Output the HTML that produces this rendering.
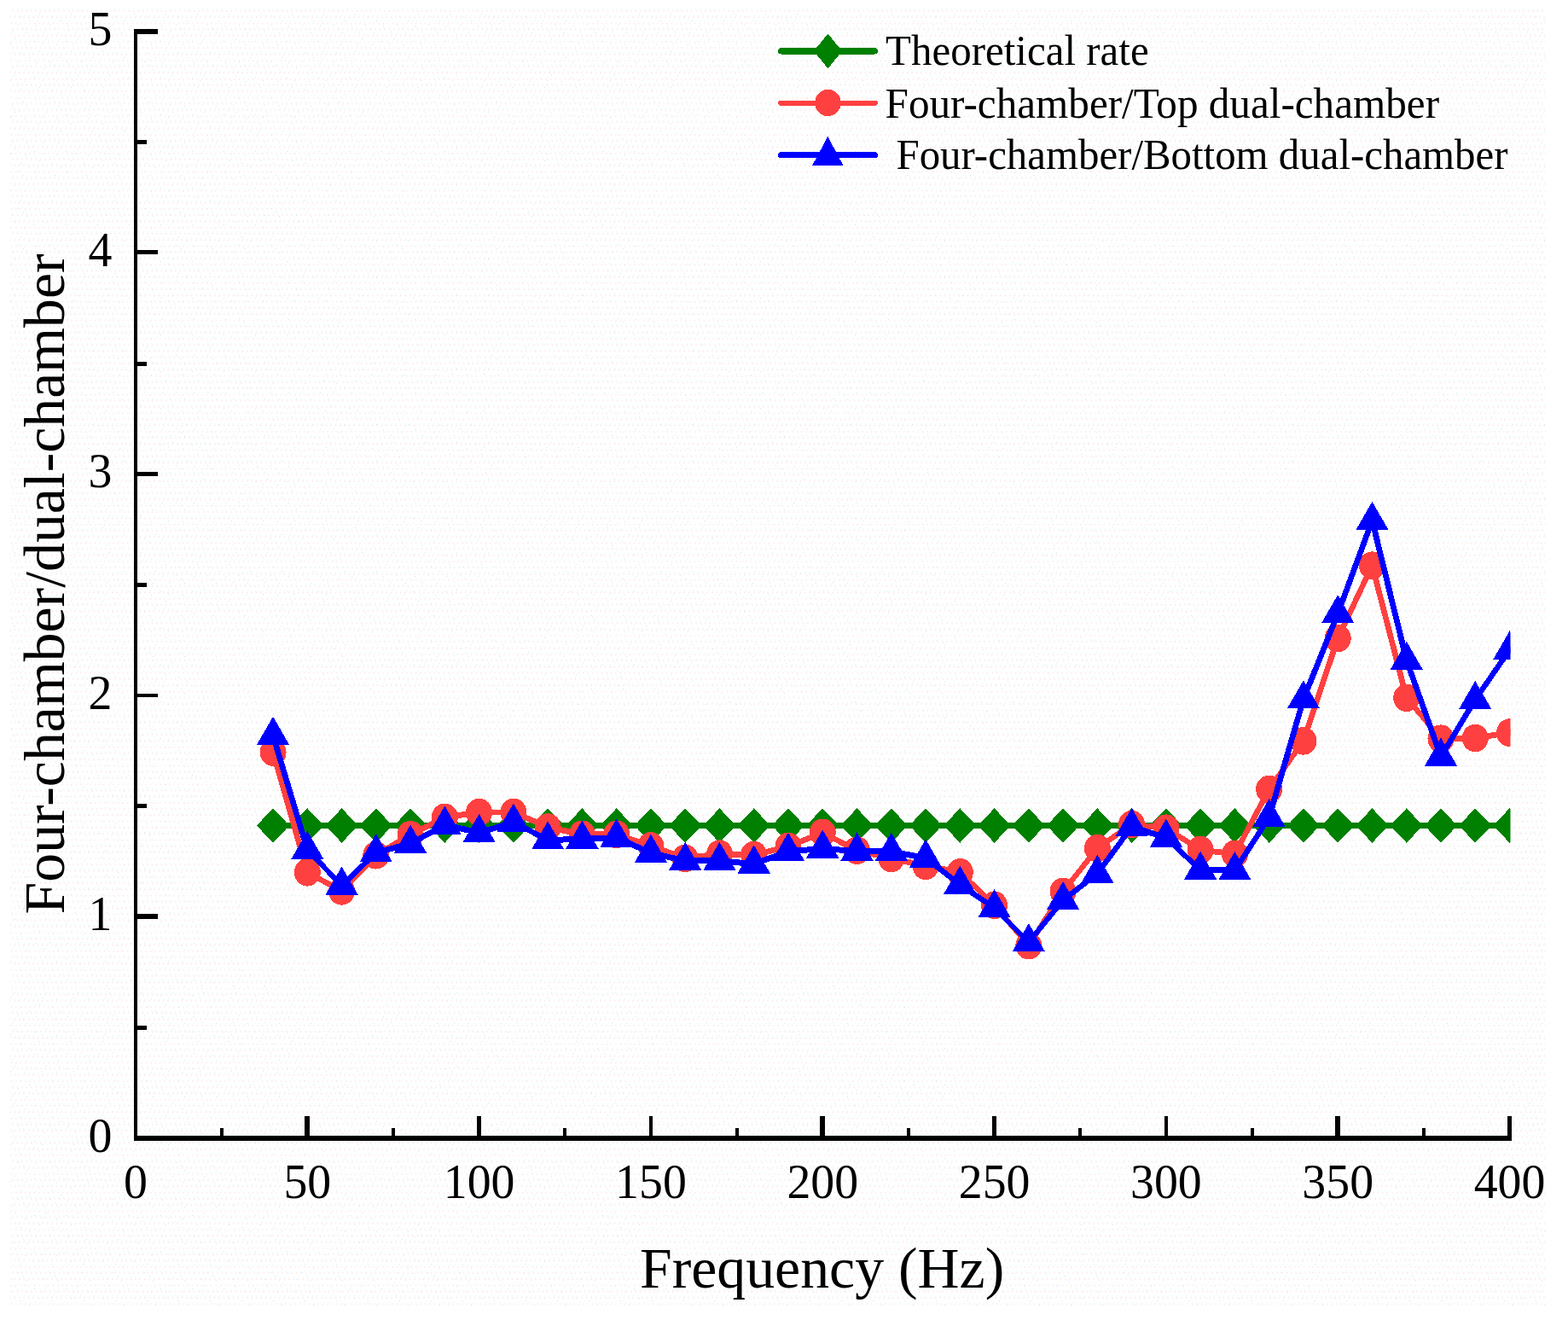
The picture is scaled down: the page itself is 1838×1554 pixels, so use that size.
<!DOCTYPE html>
<html lang="en">
<head>
<meta charset="utf-8">
<title>Four-chamber/dual-chamber vs Frequency (Hz)</title>
<style>
html,body{margin:0;padding:0;background:#fff;}
body{width:1838px;height:1554px;overflow:hidden;}
svg{display:block;}
text{font-family:"Liberation Serif","DejaVu Serif",serif;fill:#000;}
.tick{font-size:55.8px;}
.title{font-size:67.8px;}
.leg{font-size:49.1px;}
</style>
</head>
<body>
<svg width="1838" height="1554" viewBox="0 0 1838 1554">
<defs>
<pattern id="dots" x="0" y="0" width="5.45" height="21.75" patternUnits="userSpaceOnUse">
<g fill="#fbebeb">
<circle cx="4.2" cy="12.9" r="1.05"/>
<circle cx="0.95" cy="20.2" r="1.05"/><circle cx="6.4" cy="20.2" r="1.05"/>
<circle cx="2.47" cy="5.65" r="1.05"/>
</g>
<g fill="#f0fdfd">
<circle cx="3.6" cy="10.8" r="0.9"/>
<circle cx="1.6" cy="18" r="0.9"/>
<circle cx="4.9" cy="3.4" r="0.9"/>
</g>
</pattern>
<pattern id="dots2" x="0" y="0" width="37" height="43" patternUnits="userSpaceOnUse">
<g fill="#d3e9f6">
<rect x="3" y="5" width="1" height="1"/><rect x="17" y="2" width="1" height="1"/><rect x="29" y="9" width="1" height="1"/>
<rect x="9" y="16" width="1" height="1"/><rect x="24" y="19" width="1" height="1"/><rect x="34" y="24" width="1" height="1"/>
<rect x="5" y="30" width="1" height="1"/><rect x="14" y="37" width="1" height="1"/><rect x="21" y="29" width="1" height="1"/>
<rect x="31" y="38" width="1" height="1"/><rect x="12" y="8" width="1" height="1"/><rect x="27" y="33" width="1" height="1"/>
</g>
<g fill="#eef9e4"><rect x="20" y="12" width="1" height="1"/><rect x="7" y="24" width="1" height="1"/><rect x="33" y="3" width="1" height="1"/></g>
</pattern>
<clipPath id="plotclip"><rect x="150" y="20" width="1620.5" height="1320"/></clipPath>
</defs>
<rect x="0" y="0" width="1838" height="1554" fill="#ffffff"/>
<rect x="12" y="10" width="1800" height="1521" fill="url(#dots)"/>
<rect x="12" y="10" width="1800" height="1521" fill="url(#dots2)"/>

<g clip-path="url(#plotclip)" shape-rendering="crispEdges">
<line x1="320.05" y1="967.5" x2="1769.52" y2="967.5" stroke="#008000" stroke-width="7.4"/>
<g fill="#008000"><polygon points="300.85,967.5 320.05,947.25 339.25,967.5 320.05,987.75"/><polygon points="341.12,967.5 360.31,947.25 379.51,967.5 360.31,987.75"/><polygon points="381.38,967.5 400.58,947.25 419.78,967.5 400.58,987.75"/><polygon points="421.64,967.5 440.84,947.25 460.04,967.5 440.84,987.75"/><polygon points="461.9,967.5 481.1,947.25 500.3,967.5 481.1,987.75"/><polygon points="502.17,967.5 521.37,947.25 540.57,967.5 521.37,987.75"/><polygon points="542.43,967.5 561.63,947.25 580.83,967.5 561.63,987.75"/><polygon points="582.69,967.5 601.89,947.25 621.09,967.5 601.89,987.75"/><polygon points="622.96,967.5 642.16,947.25 661.36,967.5 642.16,987.75"/><polygon points="663.22,967.5 682.42,947.25 701.62,967.5 682.42,987.75"/><polygon points="703.48,967.5 722.68,947.25 741.88,967.5 722.68,987.75"/><polygon points="743.75,967.5 762.95,947.25 782.15,967.5 762.95,987.75"/><polygon points="784.01,967.5 803.21,947.25 822.41,967.5 803.21,987.75"/><polygon points="824.27,967.5 843.47,947.25 862.67,967.5 843.47,987.75"/><polygon points="864.53,967.5 883.73,947.25 902.93,967.5 883.73,987.75"/><polygon points="904.8,967.5 924,947.25 943.2,967.5 924,987.75"/><polygon points="945.06,967.5 964.26,947.25 983.46,967.5 964.26,987.75"/><polygon points="985.32,967.5 1004.52,947.25 1023.72,967.5 1004.52,987.75"/><polygon points="1025.59,967.5 1044.79,947.25 1063.99,967.5 1044.79,987.75"/><polygon points="1065.85,967.5 1085.05,947.25 1104.25,967.5 1085.05,987.75"/><polygon points="1106.11,967.5 1125.31,947.25 1144.51,967.5 1125.31,987.75"/><polygon points="1146.38,967.5 1165.58,947.25 1184.78,967.5 1165.58,987.75"/><polygon points="1186.64,967.5 1205.84,947.25 1225.04,967.5 1205.84,987.75"/><polygon points="1226.9,967.5 1246.1,947.25 1265.3,967.5 1246.1,987.75"/><polygon points="1267.16,967.5 1286.36,947.25 1305.56,967.5 1286.36,987.75"/><polygon points="1307.43,967.5 1326.63,947.25 1345.83,967.5 1326.63,987.75"/><polygon points="1347.69,967.5 1366.89,947.25 1386.09,967.5 1366.89,987.75"/><polygon points="1387.95,967.5 1407.15,947.25 1426.35,967.5 1407.15,987.75"/><polygon points="1428.22,967.5 1447.42,947.25 1466.62,967.5 1447.42,987.75"/><polygon points="1468.48,967.5 1487.68,947.25 1506.88,967.5 1487.68,987.75"/><polygon points="1508.74,967.5 1527.94,947.25 1547.14,967.5 1527.94,987.75"/><polygon points="1549,967.5 1568.2,947.25 1587.4,967.5 1568.2,987.75"/><polygon points="1589.27,967.5 1608.47,947.25 1627.67,967.5 1608.47,987.75"/><polygon points="1629.53,967.5 1648.73,947.25 1667.93,967.5 1648.73,987.75"/><polygon points="1669.79,967.5 1688.99,947.25 1708.19,967.5 1688.99,987.75"/><polygon points="1710.06,967.5 1729.26,947.25 1748.46,967.5 1729.26,987.75"/><polygon points="1750.32,967.5 1769.52,947.25 1788.72,967.5 1769.52,987.75"/></g>
<g stroke="#ff4040" stroke-linecap="round" fill="none"><line x1="320.05" y1="881.6" x2="360.31" y2="1022.3" stroke-width="6.71"/><line x1="360.31" y1="1022.3" x2="400.58" y2="1044.4" stroke-width="6.58"/><line x1="400.58" y1="1044.4" x2="440.84" y2="1002.3" stroke-width="6.23"/><line x1="440.84" y1="1002.3" x2="481.1" y2="978.1" stroke-width="6.53"/><line x1="481.1" y1="978.1" x2="521.37" y2="957.9" stroke-width="6.62"/><line x1="521.37" y1="957.9" x2="561.63" y2="952" stroke-width="6.87"/><line x1="561.63" y1="952" x2="601.89" y2="952" stroke-width="6.9"/><line x1="601.89" y1="952" x2="642.16" y2="969.5" stroke-width="6.68"/><line x1="642.16" y1="969.5" x2="682.42" y2="977.8" stroke-width="6.84"/><line x1="682.42" y1="977.8" x2="722.68" y2="977.9" stroke-width="6.9"/><line x1="722.68" y1="977.9" x2="762.95" y2="991.4" stroke-width="6.76"/><line x1="762.95" y1="991.4" x2="803.21" y2="1005.9" stroke-width="6.74"/><line x1="803.21" y1="1005.9" x2="843.47" y2="1000.7" stroke-width="6.88"/><line x1="843.47" y1="1000.7" x2="883.73" y2="1002" stroke-width="6.9"/><line x1="883.73" y1="1002" x2="924" y2="992" stroke-width="6.82"/><line x1="924" y1="992" x2="964.26" y2="975.8" stroke-width="6.7"/><line x1="964.26" y1="975.8" x2="1004.52" y2="996.7" stroke-width="6.6"/><line x1="1004.52" y1="996.7" x2="1044.79" y2="1005.9" stroke-width="6.83"/><line x1="1044.79" y1="1005.9" x2="1085.05" y2="1014.8" stroke-width="6.83"/><line x1="1085.05" y1="1014.8" x2="1125.31" y2="1022.3" stroke-width="6.85"/><line x1="1125.31" y1="1022.3" x2="1165.58" y2="1060.8" stroke-width="6.23"/><line x1="1165.58" y1="1060.8" x2="1205.84" y2="1108.2" stroke-width="6.3"/><line x1="1205.84" y1="1108.2" x2="1246.1" y2="1044.8" stroke-width="6.46"/><line x1="1246.1" y1="1044.8" x2="1286.36" y2="994.1" stroke-width="6.34"/><line x1="1286.36" y1="994.1" x2="1326.63" y2="966" stroke-width="6.44"/><line x1="1326.63" y1="966" x2="1366.89" y2="970.7" stroke-width="6.88"/><line x1="1366.89" y1="970.7" x2="1407.15" y2="996" stroke-width="6.5"/><line x1="1407.15" y1="996" x2="1447.42" y2="1000.9" stroke-width="6.88"/><line x1="1447.42" y1="1000.9" x2="1487.68" y2="924.9" stroke-width="6.54"/><line x1="1487.68" y1="924.9" x2="1527.94" y2="868.3" stroke-width="6.4"/><line x1="1527.94" y1="868.3" x2="1568.2" y2="748" stroke-width="6.68"/><line x1="1568.2" y1="748" x2="1608.47" y2="662.7" stroke-width="6.58"/><line x1="1608.47" y1="662.7" x2="1648.73" y2="817.8" stroke-width="6.72"/><line x1="1648.73" y1="817.8" x2="1688.99" y2="865.7" stroke-width="6.3"/><line x1="1688.99" y1="865.7" x2="1729.26" y2="865" stroke-width="6.9"/><line x1="1729.26" y1="865" x2="1769.52" y2="858.6" stroke-width="6.87"/></g>
<g fill="#ff4040"><ellipse cx="320.05" cy="881.6" rx="15.5" ry="16.3"/><ellipse cx="360.31" cy="1022.3" rx="15.5" ry="16.3"/><ellipse cx="400.58" cy="1044.4" rx="15.5" ry="16.3"/><ellipse cx="440.84" cy="1002.3" rx="15.5" ry="16.3"/><ellipse cx="481.1" cy="978.1" rx="15.5" ry="16.3"/><ellipse cx="521.37" cy="957.9" rx="15.5" ry="16.3"/><ellipse cx="561.63" cy="952" rx="15.5" ry="16.3"/><ellipse cx="601.89" cy="952" rx="15.5" ry="16.3"/><ellipse cx="642.16" cy="969.5" rx="15.5" ry="16.3"/><ellipse cx="682.42" cy="977.8" rx="15.5" ry="16.3"/><ellipse cx="722.68" cy="977.9" rx="15.5" ry="16.3"/><ellipse cx="762.95" cy="991.4" rx="15.5" ry="16.3"/><ellipse cx="803.21" cy="1005.9" rx="15.5" ry="16.3"/><ellipse cx="843.47" cy="1000.7" rx="15.5" ry="16.3"/><ellipse cx="883.73" cy="1002" rx="15.5" ry="16.3"/><ellipse cx="924" cy="992" rx="15.5" ry="16.3"/><ellipse cx="964.26" cy="975.8" rx="15.5" ry="16.3"/><ellipse cx="1004.52" cy="996.7" rx="15.5" ry="16.3"/><ellipse cx="1044.79" cy="1005.9" rx="15.5" ry="16.3"/><ellipse cx="1085.05" cy="1014.8" rx="15.5" ry="16.3"/><ellipse cx="1125.31" cy="1022.3" rx="15.5" ry="16.3"/><ellipse cx="1165.58" cy="1060.8" rx="15.5" ry="16.3"/><ellipse cx="1205.84" cy="1108.2" rx="15.5" ry="16.3"/><ellipse cx="1246.1" cy="1044.8" rx="15.5" ry="16.3"/><ellipse cx="1286.36" cy="994.1" rx="15.5" ry="16.3"/><ellipse cx="1326.63" cy="966" rx="15.5" ry="16.3"/><ellipse cx="1366.89" cy="970.7" rx="15.5" ry="16.3"/><ellipse cx="1407.15" cy="996" rx="15.5" ry="16.3"/><ellipse cx="1447.42" cy="1000.9" rx="15.5" ry="16.3"/><ellipse cx="1487.68" cy="924.9" rx="15.5" ry="16.3"/><ellipse cx="1527.94" cy="868.3" rx="15.5" ry="16.3"/><ellipse cx="1568.2" cy="748" rx="15.5" ry="16.3"/><ellipse cx="1608.47" cy="662.7" rx="15.5" ry="16.3"/><ellipse cx="1648.73" cy="817.8" rx="15.5" ry="16.3"/><ellipse cx="1688.99" cy="865.7" rx="15.5" ry="16.3"/><ellipse cx="1729.26" cy="865" rx="15.5" ry="16.3"/><ellipse cx="1769.52" cy="858.6" rx="15.5" ry="16.3"/></g>
<g stroke="#0000ff" stroke-linecap="round" fill="none"><line x1="320.05" y1="861.9" x2="360.31" y2="996" stroke-width="6.78"/><line x1="360.31" y1="996" x2="400.58" y2="1037.7" stroke-width="6.22"/><line x1="400.58" y1="1037.7" x2="440.84" y2="999.3" stroke-width="6.24"/><line x1="440.84" y1="999.3" x2="481.1" y2="988.7" stroke-width="6.9"/><line x1="481.1" y1="988.7" x2="521.37" y2="966.6" stroke-width="6.63"/><line x1="521.37" y1="966.6" x2="561.63" y2="976" stroke-width="6.92"/><line x1="561.63" y1="976" x2="601.89" y2="963.6" stroke-width="6.86"/><line x1="601.89" y1="963.6" x2="642.16" y2="984.4" stroke-width="6.66"/><line x1="642.16" y1="984.4" x2="682.42" y2="983.5" stroke-width="7"/><line x1="682.42" y1="983.5" x2="722.68" y2="981.5" stroke-width="7"/><line x1="722.68" y1="981.5" x2="762.95" y2="999.7" stroke-width="6.73"/><line x1="762.95" y1="999.7" x2="803.21" y2="1008.9" stroke-width="6.92"/><line x1="803.21" y1="1008.9" x2="843.47" y2="1008.9" stroke-width="7"/><line x1="843.47" y1="1008.9" x2="883.73" y2="1012.5" stroke-width="6.99"/><line x1="883.73" y1="1012.5" x2="924" y2="997.8" stroke-width="6.81"/><line x1="924" y1="997.8" x2="964.26" y2="994.5" stroke-width="6.99"/><line x1="964.26" y1="994.5" x2="1004.52" y2="997.6" stroke-width="6.99"/><line x1="1004.52" y1="997.6" x2="1044.79" y2="997.8" stroke-width="7"/><line x1="1044.79" y1="997.8" x2="1085.05" y2="1005.6" stroke-width="6.94"/><line x1="1085.05" y1="1005.6" x2="1125.31" y2="1036.7" stroke-width="6.4"/><line x1="1125.31" y1="1036.7" x2="1165.58" y2="1064.1" stroke-width="6.49"/><line x1="1165.58" y1="1064.1" x2="1205.84" y2="1104.2" stroke-width="6.2"/><line x1="1205.84" y1="1104.2" x2="1246.1" y2="1055" stroke-width="6.34"/><line x1="1246.1" y1="1055" x2="1286.36" y2="1023.8" stroke-width="6.4"/><line x1="1286.36" y1="1023.8" x2="1326.63" y2="969" stroke-width="6.41"/><line x1="1326.63" y1="969" x2="1366.89" y2="981.8" stroke-width="6.85"/><line x1="1366.89" y1="981.8" x2="1407.15" y2="1019.7" stroke-width="6.25"/><line x1="1407.15" y1="1019.7" x2="1447.42" y2="1020.1" stroke-width="7"/><line x1="1447.42" y1="1020.1" x2="1487.68" y2="958" stroke-width="6.49"/><line x1="1487.68" y1="958" x2="1527.94" y2="819.3" stroke-width="6.79"/><line x1="1527.94" y1="819.3" x2="1568.2" y2="719.1" stroke-width="6.71"/><line x1="1568.2" y1="719.1" x2="1608.47" y2="610" stroke-width="6.73"/><line x1="1608.47" y1="610" x2="1648.73" y2="773.8" stroke-width="6.82"/><line x1="1648.73" y1="773.8" x2="1688.99" y2="886.7" stroke-width="6.74"/><line x1="1688.99" y1="886.7" x2="1729.26" y2="820" stroke-width="6.53"/><line x1="1729.26" y1="820" x2="1769.52" y2="761.6" stroke-width="6.45"/></g>
<g fill="#0000ff"><polygon points="300.9,872.97 320.05,839.77 339.2,872.97"/><polygon points="341.17,1007.07 360.31,973.87 379.46,1007.07"/><polygon points="381.43,1048.77 400.58,1015.57 419.73,1048.77"/><polygon points="421.69,1010.37 440.84,977.17 459.99,1010.37"/><polygon points="461.95,999.77 481.1,966.57 500.25,999.77"/><polygon points="502.22,977.67 521.37,944.47 540.52,977.67"/><polygon points="542.48,987.07 561.63,953.87 580.78,987.07"/><polygon points="582.74,974.67 601.89,941.47 621.04,974.67"/><polygon points="623.01,995.47 642.16,962.27 661.31,995.47"/><polygon points="663.27,994.57 682.42,961.37 701.57,994.57"/><polygon points="703.53,992.57 722.68,959.37 741.83,992.57"/><polygon points="743.8,1010.77 762.95,977.57 782.1,1010.77"/><polygon points="784.06,1019.97 803.21,986.77 822.36,1019.97"/><polygon points="824.32,1019.97 843.47,986.77 862.62,1019.97"/><polygon points="864.58,1023.57 883.73,990.37 902.88,1023.57"/><polygon points="904.85,1008.87 924,975.67 943.15,1008.87"/><polygon points="945.11,1005.57 964.26,972.37 983.41,1005.57"/><polygon points="985.37,1008.67 1004.52,975.47 1023.67,1008.67"/><polygon points="1025.64,1008.87 1044.79,975.67 1063.94,1008.87"/><polygon points="1065.9,1016.67 1085.05,983.47 1104.2,1016.67"/><polygon points="1106.16,1047.77 1125.31,1014.57 1144.46,1047.77"/><polygon points="1146.42,1075.17 1165.58,1041.97 1184.73,1075.17"/><polygon points="1186.69,1115.27 1205.84,1082.07 1224.99,1115.27"/><polygon points="1226.95,1066.07 1246.1,1032.87 1265.25,1066.07"/><polygon points="1267.21,1034.87 1286.36,1001.67 1305.51,1034.87"/><polygon points="1307.48,980.07 1326.63,946.87 1345.78,980.07"/><polygon points="1347.74,992.87 1366.89,959.67 1386.04,992.87"/><polygon points="1388,1030.77 1407.15,997.57 1426.3,1030.77"/><polygon points="1428.27,1031.17 1447.42,997.97 1466.57,1031.17"/><polygon points="1468.53,969.07 1487.68,935.87 1506.83,969.07"/><polygon points="1508.79,830.37 1527.94,797.17 1547.09,830.37"/><polygon points="1549.05,730.17 1568.2,696.97 1587.36,730.17"/><polygon points="1589.32,621.07 1608.47,587.87 1627.62,621.07"/><polygon points="1629.58,784.87 1648.73,751.67 1667.88,784.87"/><polygon points="1669.84,897.77 1688.99,864.57 1708.14,897.77"/><polygon points="1710.11,831.07 1729.26,797.87 1748.41,831.07"/><polygon points="1750.37,772.67 1769.52,739.47 1788.67,772.67"/></g>
</g>
<g fill="#000" shape-rendering="crispEdges">
<rect x="157" y="34" width="4" height="1303"/>
<rect x="157" y="1331" width="1615" height="6"/>
<rect x="159" y="1202" width="13" height="5"/>
<rect x="159" y="1071" width="25.5" height="6"/>
<rect x="159" y="942" width="13" height="5"/>
<rect x="159" y="813" width="25.5" height="4"/>
<rect x="159" y="683" width="13" height="5"/>
<rect x="159" y="553" width="25.5" height="5"/>
<rect x="159" y="424" width="13" height="5"/>
<rect x="159" y="293" width="25.5" height="5"/>
<rect x="159" y="164" width="13" height="5"/>
<rect x="159" y="34" width="25.5" height="6"/>
<rect x="258" y="1322" width="4" height="11"/>
<rect x="357" y="1308" width="6" height="25"/>
<rect x="459" y="1322" width="4" height="11"/>
<rect x="559" y="1308" width="5" height="25"/>
<rect x="660" y="1322" width="4" height="11"/>
<rect x="761" y="1308" width="4" height="25"/>
<rect x="862" y="1322" width="4" height="11"/>
<rect x="961" y="1308" width="6" height="25"/>
<rect x="1063" y="1322" width="4" height="11"/>
<rect x="1163" y="1308" width="5" height="25"/>
<rect x="1264" y="1322" width="4" height="11"/>
<rect x="1365" y="1308" width="4" height="25"/>
<rect x="1466" y="1322" width="4" height="11"/>
<rect x="1565" y="1308" width="6" height="25"/>
<rect x="1667" y="1322" width="4" height="11"/>
<rect x="1767" y="1308" width="5" height="25"/>
</g>
<g class="tick" text-anchor="middle">
<text transform="translate(117.5,1349.6) scale(1,1.04)">0</text>
<text transform="translate(117.5,1090.2) scale(1,1.04)">1</text>
<text transform="translate(117.5,830.8) scale(1,1.04)">2</text>
<text transform="translate(117.5,571.4) scale(1,1.04)">3</text>
<text transform="translate(117.5,312) scale(1,1.04)">4</text>
<text transform="translate(117.5,52.6) scale(1,1.04)">5</text>
<text transform="translate(159,1403.6) scale(1,1.04)">0</text>
<text transform="translate(360.31,1403.6) scale(1,1.04)">50</text>
<text transform="translate(561.63,1403.6) scale(1,1.04)">100</text>
<text transform="translate(762.95,1403.6) scale(1,1.04)">150</text>
<text transform="translate(964.26,1403.6) scale(1,1.04)">200</text>
<text transform="translate(1165.58,1403.6) scale(1,1.04)">250</text>
<text transform="translate(1366.89,1403.6) scale(1,1.04)">300</text>
<text transform="translate(1568.2,1403.6) scale(1,1.04)">350</text>
<text transform="translate(1769.52,1403.6) scale(1,1.04)">400</text>
</g>
<text class="title" text-anchor="middle" x="963.6" y="1509">Frequency (Hz)</text>
<text class="title" style="font-size:66.6px" text-anchor="middle" textLength="774" lengthAdjust="spacingAndGlyphs" transform="translate(75,684.4) rotate(-90)">Four-chamber/dual-chamber</text>
<g shape-rendering="crispEdges">
<line x1="915.7" y1="59.8" x2="1025.3" y2="59.8" stroke="#008000" stroke-width="7.4" stroke-linecap="round"/>
<g fill="#008000"><polygon points="953.8,59.9 970.5,39.6 987.2,59.9 970.5,80.2"/></g>
<line x1="914.8" y1="120.8" x2="1026.2" y2="120.8" stroke="#ff4040" stroke-width="5.5" stroke-linecap="round"/>
<g fill="#ff4040"><ellipse cx="970.5" cy="120.5" rx="15.2" ry="15.6"/></g>
<line x1="915.7" y1="181.7" x2="1025.3" y2="181.7" stroke="#0000ff" stroke-width="7.4" stroke-linecap="round"/>
<g fill="#0000ff"><polygon points="952.1,194 970.3,160 988.5,194"/></g>
</g>
<g class="leg">
<text transform="translate(1038.1,76) scale(1,1.035)" textLength="308.6" lengthAdjust="spacingAndGlyphs">Theoretical rate</text>
<text transform="translate(1037.6,137.8) scale(1,1.035)" textLength="649.4" lengthAdjust="spacingAndGlyphs">Four-chamber/Top dual-chamber</text>
<text transform="translate(1050.5,197.9) scale(1,1.035)" textLength="717" lengthAdjust="spacingAndGlyphs">Four-chamber/Bottom dual-chamber</text>
</g>
</svg>
</body>
</html>
